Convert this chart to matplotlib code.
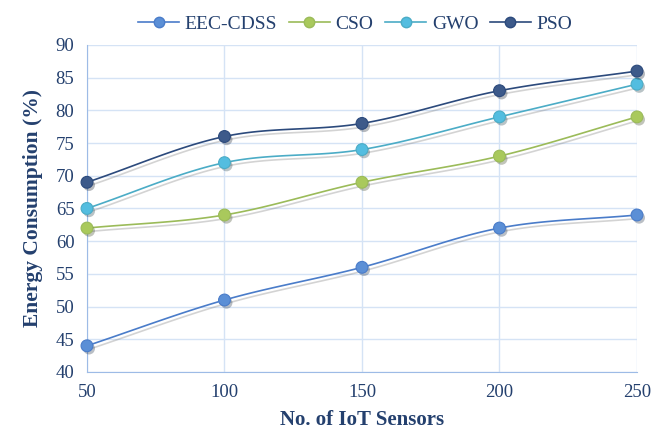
import numpy as np
import matplotlib.pyplot as plt
import matplotlib.patheffects as pe

sensors = [50, 100, 150, 200, 250]
eec_cdss = [44, 51, 56, 62, 64]
cso = [62, 64, 69, 73, 79]
gwo = [65, 72, 74, 79, 84]
pso = [69, 76, 78, 83, 86]

names = ["EEC-CDSS", "CSO", "GWO", "PSO"]
line_colors = ["#4a7cc9", "#9bbb59", "#4bacc6", "#2c4a7c"]
marker_colors = ["#5b8fd6", "#a9c95c", "#53bde0", "#3d5a8a"]

plt.rcParams["font.family"] = ["Liberation Serif", "DejaVu Serif"]
text_color = "#24406e"


def smooth(x, y, n=30):
    # Catmull-Rom curve through the points, like a smoothed line in a spreadsheet
    x = np.asarray(x, float)
    y = np.asarray(y, float)
    px = np.concatenate([[2 * x[0] - x[1]], x, [2 * x[-1] - x[-2]]])
    py = np.concatenate([[2 * y[0] - y[1]], y, [2 * y[-1] - y[-2]]])
    xs, ys = [], []
    t = np.linspace(0, 1, n)
    for i in range(1, len(px) - 2):
        for p, out in ((px, xs), (py, ys)):
            p0, p1, p2, p3 = p[i - 1], p[i], p[i + 1], p[i + 2]
            out.append(0.5 * (2 * p1 + (-p0 + p2) * t
                              + (2 * p0 - 5 * p1 + 4 * p2 - p3) * t ** 2
                              + (-p0 + 3 * p1 - 3 * p2 + p3) * t ** 3))
    return np.concatenate(xs), np.concatenate(ys)


fig = plt.figure(figsize=(6.52, 4.32), dpi=100)
ax = fig.add_axes([0.1334, 0.139, 0.8436, 0.757])

shadow = [pe.SimpleLineShadow(offset=(1.5, -2.5), shadow_color="#707070", alpha=0.3, rho=1.0),
          pe.Normal()]

for name, vals, lc, mc in zip(names, [eec_cdss, cso, gwo, pso], line_colors, marker_colors):
    sx, sy = smooth(sensors, vals)
    ax.plot(sx, sy, color=lc, lw=1.2, path_effects=shadow, zorder=3)
    ax.plot(sensors, vals, ls="none", marker="o", ms=8.5, mfc=mc, mec=lc, mew=0.8,
            path_effects=[pe.SimplePatchShadow(offset=(1.5, -2), alpha=0.3), pe.Normal()],
            zorder=4, clip_on=False)
    ax.plot([], [], color=lc, lw=1.2, marker="o", ms=7.5, mfc=mc, mec=lc, label=name)

ax.set_xlim(50, 250)
ax.set_ylim(40, 90)
ax.set_xticks(sensors)
ax.set_yticks(np.arange(40, 91, 5))
ax.grid(True, color="#d5e3f5", lw=1.0)
ax.set_axisbelow(True)
for side in ["top", "right"]:
    ax.spines[side].set_visible(False)
for side in ["left", "bottom"]:
    ax.spines[side].set_color("#9dbbe6")
ax.tick_params(length=0, labelsize=13.5, colors=text_color, pad=9)

ax.set_xlabel("No. of IoT Sensors", fontsize=15, fontweight="bold", color=text_color, labelpad=6)
ax.set_ylabel("Energy Consumption (%)", fontsize=15.5, fontweight="bold", color=text_color, labelpad=9)

leg = fig.legend(loc="upper center", bbox_to_anchor=(0.545, 1.005), ncol=4, frameon=False,
                 fontsize=14, handlelength=2.1, columnspacing=0.6, handletextpad=0.3)
for t in leg.get_texts():
    t.set_color(text_color)

fig.savefig("out.png", dpi=100)
